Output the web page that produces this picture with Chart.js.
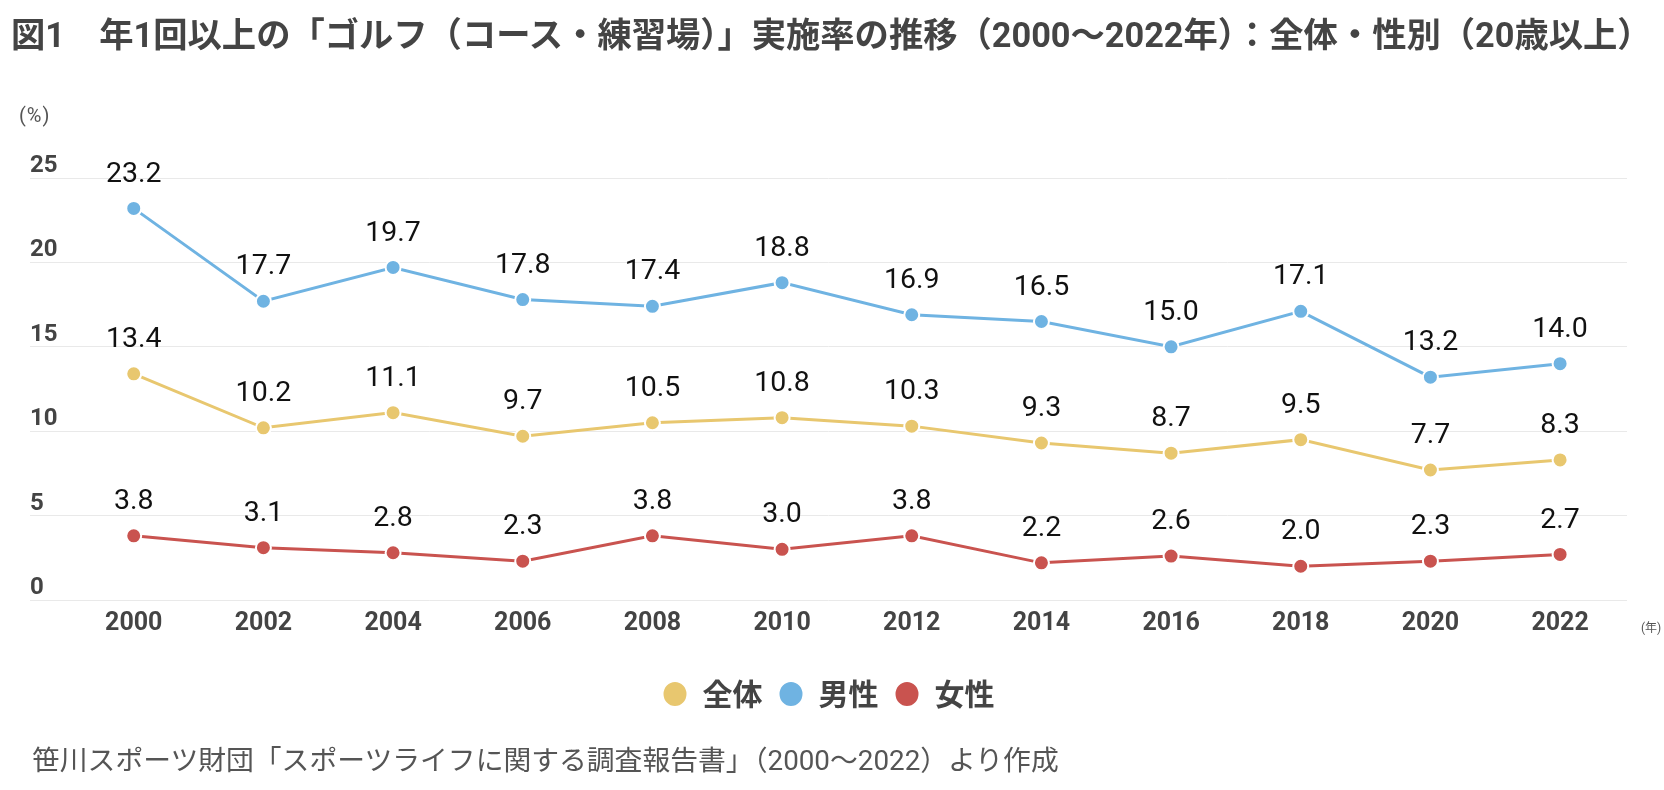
<!DOCTYPE html>
<html lang="ja">
<head>
<meta charset="utf-8">
<script src="https://cdn.jsdelivr.net/npm/chart.js@4/dist/chart.umd.min.js"></script>
<style>
  html, body { margin: 0; padding: 0; background: #fff; }
  body { width: 1664px; height: 790px; position: relative; overflow: hidden; font-family: Roboto, "Noto Sans CJK JP", sans-serif; }
  #wrap { position: absolute; left: 0; top: 0; width: 1664px; height: 790px; }
  .txt { position: absolute; white-space: nowrap; color: #444; }
  #title { left: 11px; top: 13px; font-size: 34.3px; font-weight: 700; line-height: 44px; }
  #footer { left: 32px; top: 743px; font-size: 27.8px; font-weight: 400; color: #555; line-height: 36px; }
  #unitY { left: 19px; top: 101px; font-size: 20px; color: #555; line-height: 28px; letter-spacing: 1px; }
  #unitX { left: 1641px; top: 620px; font-size: 12px; color: #555; line-height: 16px; }
</style>
</head>
<body>
<div id="wrap"><canvas id="c" width="1664" height="790"></canvas></div>
<div class="txt" id="title">図1　年1回以上の「ゴルフ（コース・練習場）」実施率の推移（2000〜2022年）：全体・性別（20歳以上）</div>
<div class="txt" id="unitY">(%)</div>
<div class="txt" id="unitX">(年)</div>
<div class="txt" id="footer">笹川スポーツ財団「スポーツライフに関する調査報告書」（2000〜2022）より作成</div>
<script>
// ---- data ----
const years = ['2000','2002','2004','2006','2008','2010','2012','2014','2016','2018','2020','2022'];
const seriesNames = ['全体', '男性', '女性'];
const totalValues = [13.4, 10.2, 11.1, 9.7, 10.5, 10.8, 10.3, 9.3, 8.7, 9.5, 7.7, 8.3];
const maleValues  = [23.2, 17.7, 19.7, 17.8, 17.4, 18.8, 16.9, 16.5, 15.0, 17.1, 13.2, 14.0];
const femaleValues = [3.8, 3.1, 2.8, 2.3, 3.8, 3.0, 3.8, 2.2, 2.6, 2.0, 2.3, 2.7];
const yTicks = [0, 5, 10, 15, 20, 25];

const colors = ['#e8c76f', '#6fb3e2', '#c9534f'];

function ds(label, data, color) {
  return {
    label, data,
    borderColor: color,
    backgroundColor: color,
    borderWidth: 3,
    pointRadius: 7.5,
    pointHoverRadius: 7.5,
    pointBackgroundColor: color,
    pointBorderColor: '#ffffff',
    pointBorderWidth: 2,
    tension: 0,
    clip: false
  };
}

const valueLabels = {
  id: 'valueLabels',
  afterDatasetsDraw(chart) {
    const ctx = chart.ctx;
    ctx.save();
    ctx.font = '400 28.5px Roboto, "Noto Sans CJK JP", sans-serif';
    ctx.fillStyle = '#111';
    ctx.textAlign = 'center';
    ctx.textBaseline = 'middle';
    chart.data.datasets.forEach((d, di) => {
      const meta = chart.getDatasetMeta(di);
      meta.data.forEach((el, i) => {
        ctx.fillText(Number(d.data[i]).toFixed(1), el.x, el.y - 34);
      });
    });
    ctx.restore();
  }
};

new Chart(document.getElementById('c'), {
  type: 'line',
  data: {
    labels: years,
    datasets: [
      ds(seriesNames[0], totalValues, colors[0]),
      ds(seriesNames[1], maleValues, colors[1]),
      ds(seriesNames[2], femaleValues, colors[2])
    ]
  },
  options: {
    responsive: false,
    animation: false,
    events: [],
    layout: { padding: { left: 30, right: 37, top: 178, bottom: 71 } },
    scales: {
      x: {
        type: 'linear',
        min: 1998.40,
        max: 2023.032,
        afterBuildTicks(scale) { scale.ticks = years.map(v => ({ value: Number(v) })); },
        afterFit(scale) { scale.height = 63; },
        grid: { display: false, drawTicks: false },
        border: { display: false },
        ticks: {
          padding: 9,
          autoSkip: false,
          maxRotation: 0,
          color: '#444',
          font: { family: 'Roboto, "Noto Sans CJK JP", sans-serif', size: 25, weight: '700' },
          callback: (v) => String(v)
        }
      },
      y: {
        min: 0,
        max: 25,
        afterBuildTicks(scale) { scale.ticks = yTicks.map(v => ({ value: v })); },
        grid: { color: '#e9e9e9', lineWidth: 1, drawTicks: false },
        border: { display: false },
        ticks: {
          mirror: true,
          padding: 0,
          labelOffset: -12,
          color: '#444',
          font: { family: 'Roboto, "Noto Sans CJK JP", sans-serif', size: 24, weight: '700' },
          callback: (v) => String(v)
        }
      }
    },
    plugins: {
      title: { display: false },
      tooltip: { enabled: false },
      legend: {
        display: true,
        position: 'bottom',
        labels: {
          usePointStyle: true,
          pointStyle: 'circle',
          boxHeight: 18.5,
          pointStyleWidth: 25,
          padding: 16,
          color: '#444',
          font: { family: '"Noto Sans CJK JP", Roboto, sans-serif', size: 30, weight: '700' }
        }
      }
    }
  },
  plugins: [valueLabels]
});
</script>
</body>
</html>
